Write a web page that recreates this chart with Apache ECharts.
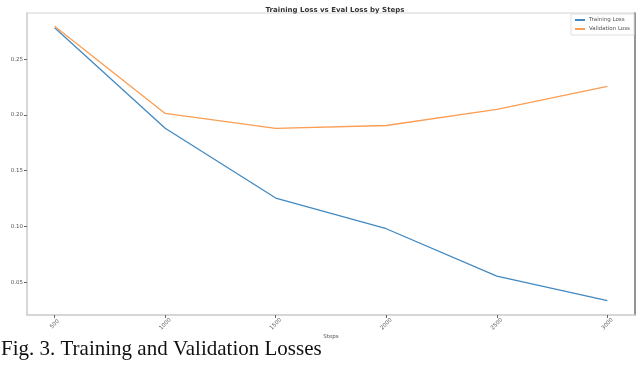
<!DOCTYPE html>
<html>
<head>
<meta charset="utf-8">
<script src="https://cdn.jsdelivr.net/npm/echarts@6/dist/echarts.min.js"></script>
<style>
  html, body { margin: 0; padding: 0; background: #fff; }
  #chart { width: 640px; height: 367px; }
</style>
</head>
<body>
<div id="chart"></div>
<script>
const steps = [500, 1000, 1500, 2000, 2500, 3000];
const trainLoss = [0.278, 0.188, 0.1255, 0.098, 0.0556, 0.0335];
const valLoss = [0.2795, 0.2013, 0.188, 0.1905, 0.2050, 0.2255];
const yTicks = [0.05, 0.10, 0.15, 0.20, 0.25];

const chart = echarts.init(document.getElementById('chart'), null, { renderer: 'canvas' });

const option = {
  animation: false,
  backgroundColor: '#fff',
  color: ['#4289c2', '#fb9d52'],
  title: {
    text: 'Training Loss vs Eval Loss by Steps',
    left: 330,
    top: 2,
    textAlign: 'center',
    textStyle: { fontSize: 7, fontWeight: 'bold', color: '#333', fontFamily: 'DejaVu Sans' }
  },
  legend: {
    orient: 'vertical',
    left: 571,
    top: 14,
    padding: [3, 4, 3, 4],
    itemGap: 3,
    itemWidth: 10,
    itemHeight: 2,
    icon: 'rect',
    borderColor: '#e0e0e0',
    borderWidth: 1,
    textStyle: { fontSize: 5.5, color: '#555', fontFamily: 'DejaVu Sans', padding: [0, 0, 0, -1] },
    data: ['Training Loss', 'Validation Loss']
  },
  grid: {
    left: 27,
    right: 5,
    top: 13,
    bottom: 52,
    containLabel: false,
    outerBoundsMode: 'none',
    show: true,
    borderColor: '#d4d4d4',
    borderWidth: 1
  },
  xAxis: {
    type: 'value',
    min: 375,
    max: 3125,
    name: 'Steps',
    nameLocation: 'middle',
    nameGap: 19,
    nameMoveOverlap: false,
    nameTextStyle: { fontSize: 5.5, color: '#555', fontFamily: 'DejaVu Sans' },
    splitLine: { show: false },
    axisLine: { lineStyle: { color: '#d0d0d0', width: 1.5 } },
    axisTick: { customValues: steps, length: 3, lineStyle: { color: '#666' } },
    axisLabel: {
      customValues: steps,
      rotate: 45,
      align: 'center',
      verticalAlign: 'middle',
      fontSize: 5.5,
      color: '#555',
      fontFamily: 'DejaVu Sans',
      margin: 9,
      formatter: function (v) { return String(v); }
    }
  },
  yAxis: [{
    type: 'value',
    min: 0.0207,
    max: 0.2913,
    name: 'loss',
    nameLocation: 'middle',
    nameGap: 20,
    nameTextStyle: { fontSize: 5.5, color: '#555', fontFamily: 'DejaVu Sans' },
    splitLine: { show: false },
    axisLine: { show: true, lineStyle: { color: '#d0d0d0', width: 1.5 } },
    axisTick: { show: true, customValues: yTicks, length: 3, lineStyle: { color: '#666' } },
    axisLabel: {
      customValues: yTicks,
      fontSize: 5.5,
      color: '#555',
      fontFamily: 'DejaVu Sans',
      margin: 4,
      formatter: function (v) { return v.toFixed(2); }
    }
  }, {
    type: 'value',
    position: 'right',
    min: 0.0207,
    max: 0.2913,
    splitLine: { show: false },
    axisLine: { show: true, lineStyle: { color: '#777', width: 1.5 } },
    axisTick: { show: false },
    axisLabel: { show: false }
  }],
  graphic: [{
    type: 'text',
    left: 1,
    top: 339,
    style: {
      text: 'Fig. 3. Training and Validation Losses',
      font: '21px "Liberation Serif"',
      fill: '#111'
    }
  }],
  series: [
    {
      name: 'Training Loss',
      type: 'line',
      showSymbol: false,
      lineStyle: { width: 1.3 },
      data: steps.map((s, i) => [s, trainLoss[i]])
    },
    {
      name: 'Validation Loss',
      type: 'line',
      showSymbol: false,
      lineStyle: { width: 1.3 },
      data: steps.map((s, i) => [s, valLoss[i]])
    }
  ]
};

chart.setOption(option);
</script>
</body>
</html>
